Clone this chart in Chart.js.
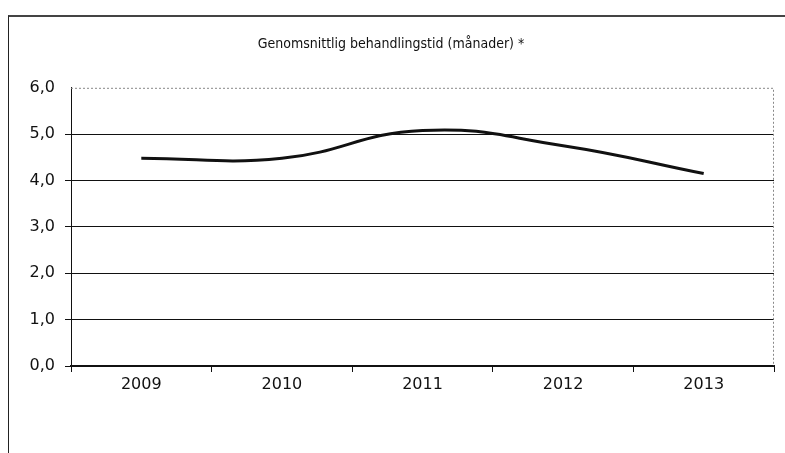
<!DOCTYPE html>
<html>
<head>
<meta charset="utf-8">
<script src="https://cdn.jsdelivr.net/npm/chart.js@4"></script>
<style>
  body { margin: 0; background: #fff; }
  #frame { position: absolute; left: 8px; top: 15px; width: 790px; height: 450px;
           border-left: 1px solid #222; border-top: 2px solid #444; }
  #wrap { position: absolute; left: 0; top: 0; width: 785px; height: 453px; }
</style>
</head>
<body>
<div id="frame"></div>
<div id="wrap"><canvas id="chart" width="785" height="453"></canvas></div>
<script>
// data
const years = ['2009', '2010', '2011', '2012', '2013'];
const months = [4.48, 4.48, 5.08, 4.75, 4.15];
const yTicks = [0, 1, 2, 3, 4, 5, 6];

const tickFont = { family: 'DejaVu Sans', size: 16 };

// dotted grey border on top and right of the plot area
const plotBorder = {
  id: 'plotBorder',
  afterDraw(chart) {
    const a = chart.chartArea, ctx = chart.ctx;
    ctx.save();
    ctx.strokeStyle = '#888';
    ctx.lineWidth = 1;
    ctx.setLineDash([2, 2]);
    ctx.beginPath();
    ctx.moveTo(a.left, a.top + 0.5);
    ctx.lineTo(a.right - 0.5, a.top + 0.5);
    ctx.lineTo(a.right - 0.5, a.bottom);
    ctx.stroke();
    ctx.restore();
  }
};

new Chart(document.getElementById('chart'), {
  type: 'line',
  data: {
    labels: years,
    datasets: [{
      label: 'Genomsnittlig behandlingstid',
      data: months,
      borderColor: '#111',
      borderWidth: 3,
      pointRadius: 0,
      tension: 0.45,
      fill: false
    }]
  },
  options: {
    responsive: false,
    animation: false,
    layout: { padding: { left: 8, right: 11, top: 0, bottom: 0 } },
    plugins: {
      legend: { display: false },
      tooltip: { enabled: false },
      title: {
        display: true,
        text: 'Genomsnittlig behandlingstid (månader) *',
        color: '#111',
        font: { family: 'DejaVu Sans Condensed', size: 14, weight: 'normal' },
        padding: { top: 36, bottom: 35 }
      }
    },
    scales: {
      x: {
        offset: true,
        grid: { offset: true, drawOnChartArea: false, tickLength: 6, color: '#111' },
        border: { color: '#111', width: 2 },
        ticks: { color: '#111', font: tickFont, padding: 3 },
        afterFit(s) { s.height = 87; }
      },
      y: {
        min: 0,
        max: 6,
        afterBuildTicks(s) { s.ticks = yTicks.map(v => ({ value: v })); },
        grid: {
          color: ctx => ctx.tick && ctx.tick.value === 6 ? 'rgba(0,0,0,0)' : '#111',
          lineWidth: 1,
          tickLength: 6
        },
        border: { color: '#111', width: 1 },
        ticks: {
          color: '#111',
          font: tickFont,
          padding: 10,
          callback: v => v.toFixed(1).replace('.', ',')
        },
        afterFit(s) { s.width = 63; }
      }
    }
  },
  plugins: [plotBorder]
});
</script>
</body>
</html>
